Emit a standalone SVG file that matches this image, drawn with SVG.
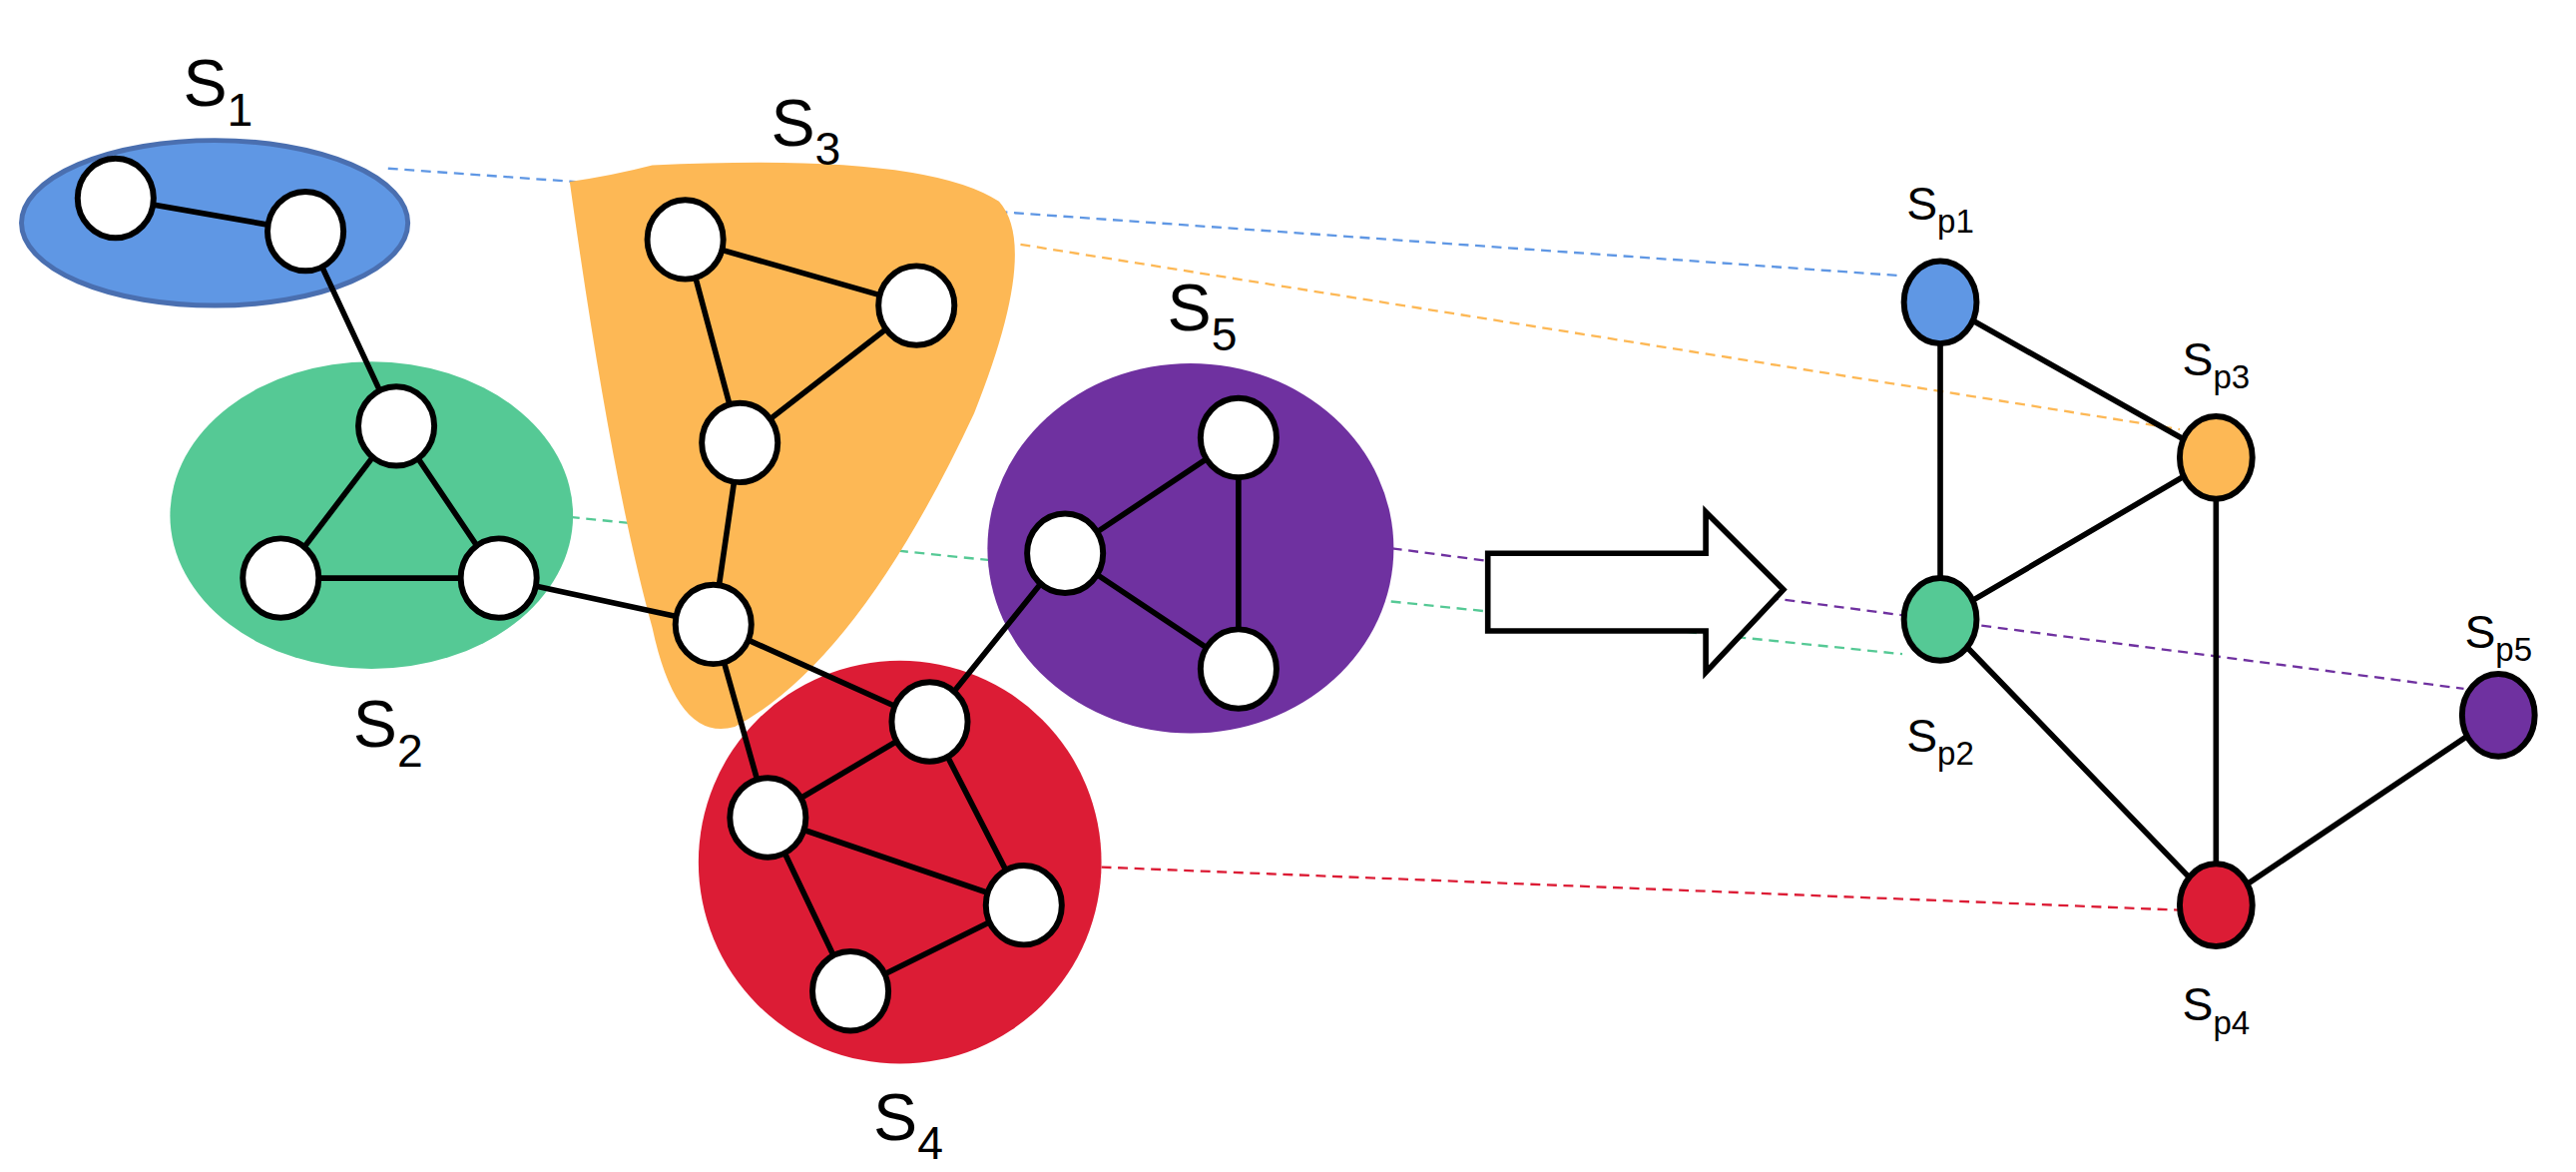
<svg xmlns="http://www.w3.org/2000/svg" width="2581" height="1174" viewBox="0 0 2581 1174">
<style>
.n{fill:#fff;stroke:#000;stroke-width:3.6}
.e{stroke:#000;stroke-width:3.4;fill:none}
.d{stroke-width:1.4;stroke-dasharray:6 4;fill:none}
.L{font-family:"Liberation Sans",Arial,sans-serif;font-size:40px;fill:#000;text-anchor:middle}
.l{font-family:"Liberation Sans",Arial,sans-serif;font-size:28px;fill:#000;text-anchor:middle}
</style>
<rect width="2581" height="1174" fill="#fff"/>
<g transform="scale(1.6545)">
<g id="mapping">
<line class="d" stroke="#5f97e4" x1="235" y1="102" x2="1152" y2="167"/>
<line class="d" stroke="#fdb855" x1="618" y1="148" x2="1320" y2="260"/>
<line class="d" stroke="#55c995" x1="345" y1="313" x2="1152" y2="396"/>
<line class="d" stroke="#6f31a0" x1="843" y1="332" x2="1492" y2="417"/>
<line class="d" stroke="#dc1c35" x1="667" y1="525" x2="1320" y2="551"/>
</g>
<g id="S1"><ellipse cx="130" cy="135" rx="117" ry="50" fill="#5f97e4" stroke="#4a6fb0" stroke-width="3"/>
<text class="L" x="132" y="64">S<tspan font-size="28" dy="12">1</tspan></text></g>
<g id="S2"><ellipse cx="225" cy="312" rx="122" ry="93" fill="#55c995"/>
<text class="L" x="235" y="452">S<tspan font-size="28" dy="12">2</tspan></text></g>
<g id="S3"><path d="M345 110 Q372 106 395 100 Q560 92 605 122 Q630 150 590 250 Q520 400 445 440 Q410 450 395 380 Q370 290 345 110 Z" fill="#fdb855"/>
<text class="L" x="488" y="88">S<tspan font-size="28" dy="12">3</tspan></text></g>
<g id="S4"><circle cx="545" cy="522" r="122" fill="#dc1c35"/>
<text class="L" x="550" y="690">S<tspan font-size="28" dy="12">4</tspan></text></g>
<g id="S5"><ellipse cx="721" cy="332" rx="123" ry="112" fill="#6f31a0"/>
<text class="L" x="728" y="200">S<tspan font-size="28" dy="12">5</tspan></text></g>
<g id="edges">
<path class="e" d="M70 120L185 140M185 140L240 258M240 258L170 350M240 258L302 350M170 350L302 350M302 350L432 378M415 145L555 185M415 145L448 268M555 185L448 268M448 268L432 378M432 378L563 437M432 378L465 495M563 437L465 495M563 437L620 548M563 437L645 335M465 495L620 548M465 495L515 600M620 548L515 600M750 265L645 335M750 265L750 405M645 335L750 405"/>
<path class="e" d="M1175 183L1342 277M1175 183L1175 375M1175 375L1342 277M1342 277L1342 548M1175 375L1342 548M1342 548L1513 433"/>
</g>
<g id="nodes">
<ellipse class="n" cx="70" cy="120" rx="23" ry="24"/><ellipse class="n" cx="185" cy="140" rx="23" ry="24"/>
<ellipse class="n" cx="240" cy="258" rx="23" ry="24"/><ellipse class="n" cx="170" cy="350" rx="23" ry="24"/><ellipse class="n" cx="302" cy="350" rx="23" ry="24"/>
<ellipse class="n" cx="415" cy="145" rx="23" ry="24"/><ellipse class="n" cx="555" cy="185" rx="23" ry="24"/><ellipse class="n" cx="448" cy="268" rx="23" ry="24"/><ellipse class="n" cx="432" cy="378" rx="23" ry="24"/>
<ellipse class="n" cx="563" cy="437" rx="23" ry="24"/><ellipse class="n" cx="465" cy="495" rx="23" ry="24"/><ellipse class="n" cx="620" cy="548" rx="23" ry="24"/><ellipse class="n" cx="515" cy="600" rx="23" ry="24"/>
<ellipse class="n" cx="750" cy="265" rx="23" ry="24"/><ellipse class="n" cx="645" cy="335" rx="23" ry="24"/><ellipse class="n" cx="750" cy="405" rx="23" ry="24"/>
</g>
<g id="arrow"><path d="M901 335H1033V310L1080 357L1033 407V382H901Z" fill="#fff" stroke="#000" stroke-width="3.4"/></g>
<g id="Sp1"><ellipse class="n" cx="1175" cy="183" rx="22" ry="25" fill="#5f97e4" style="fill:#5f97e4"/><text class="l" x="1175" y="133">S<tspan font-size="20" dy="8">p1</tspan></text></g>
<g id="Sp3"><ellipse class="n" cx="1342" cy="277" rx="22" ry="25" style="fill:#fdb855"/><text class="l" x="1342" y="227">S<tspan font-size="20" dy="8">p3</tspan></text></g>
<g id="Sp2"><ellipse class="n" cx="1175" cy="375" rx="22" ry="25" style="fill:#55c995"/><text class="l" x="1175" y="455">S<tspan font-size="20" dy="8">p2</tspan></text></g>
<g id="Sp5"><ellipse class="n" cx="1513" cy="433" rx="22" ry="25" style="fill:#6f31a0"/><text class="l" x="1513" y="392">S<tspan font-size="20" dy="8">p5</tspan></text></g>
<g id="Sp4"><ellipse class="n" cx="1342" cy="548" rx="22" ry="25" style="fill:#dc1c35"/><text class="l" x="1342" y="618">S<tspan font-size="20" dy="8">p4</tspan></text></g>
</g>
</svg>
